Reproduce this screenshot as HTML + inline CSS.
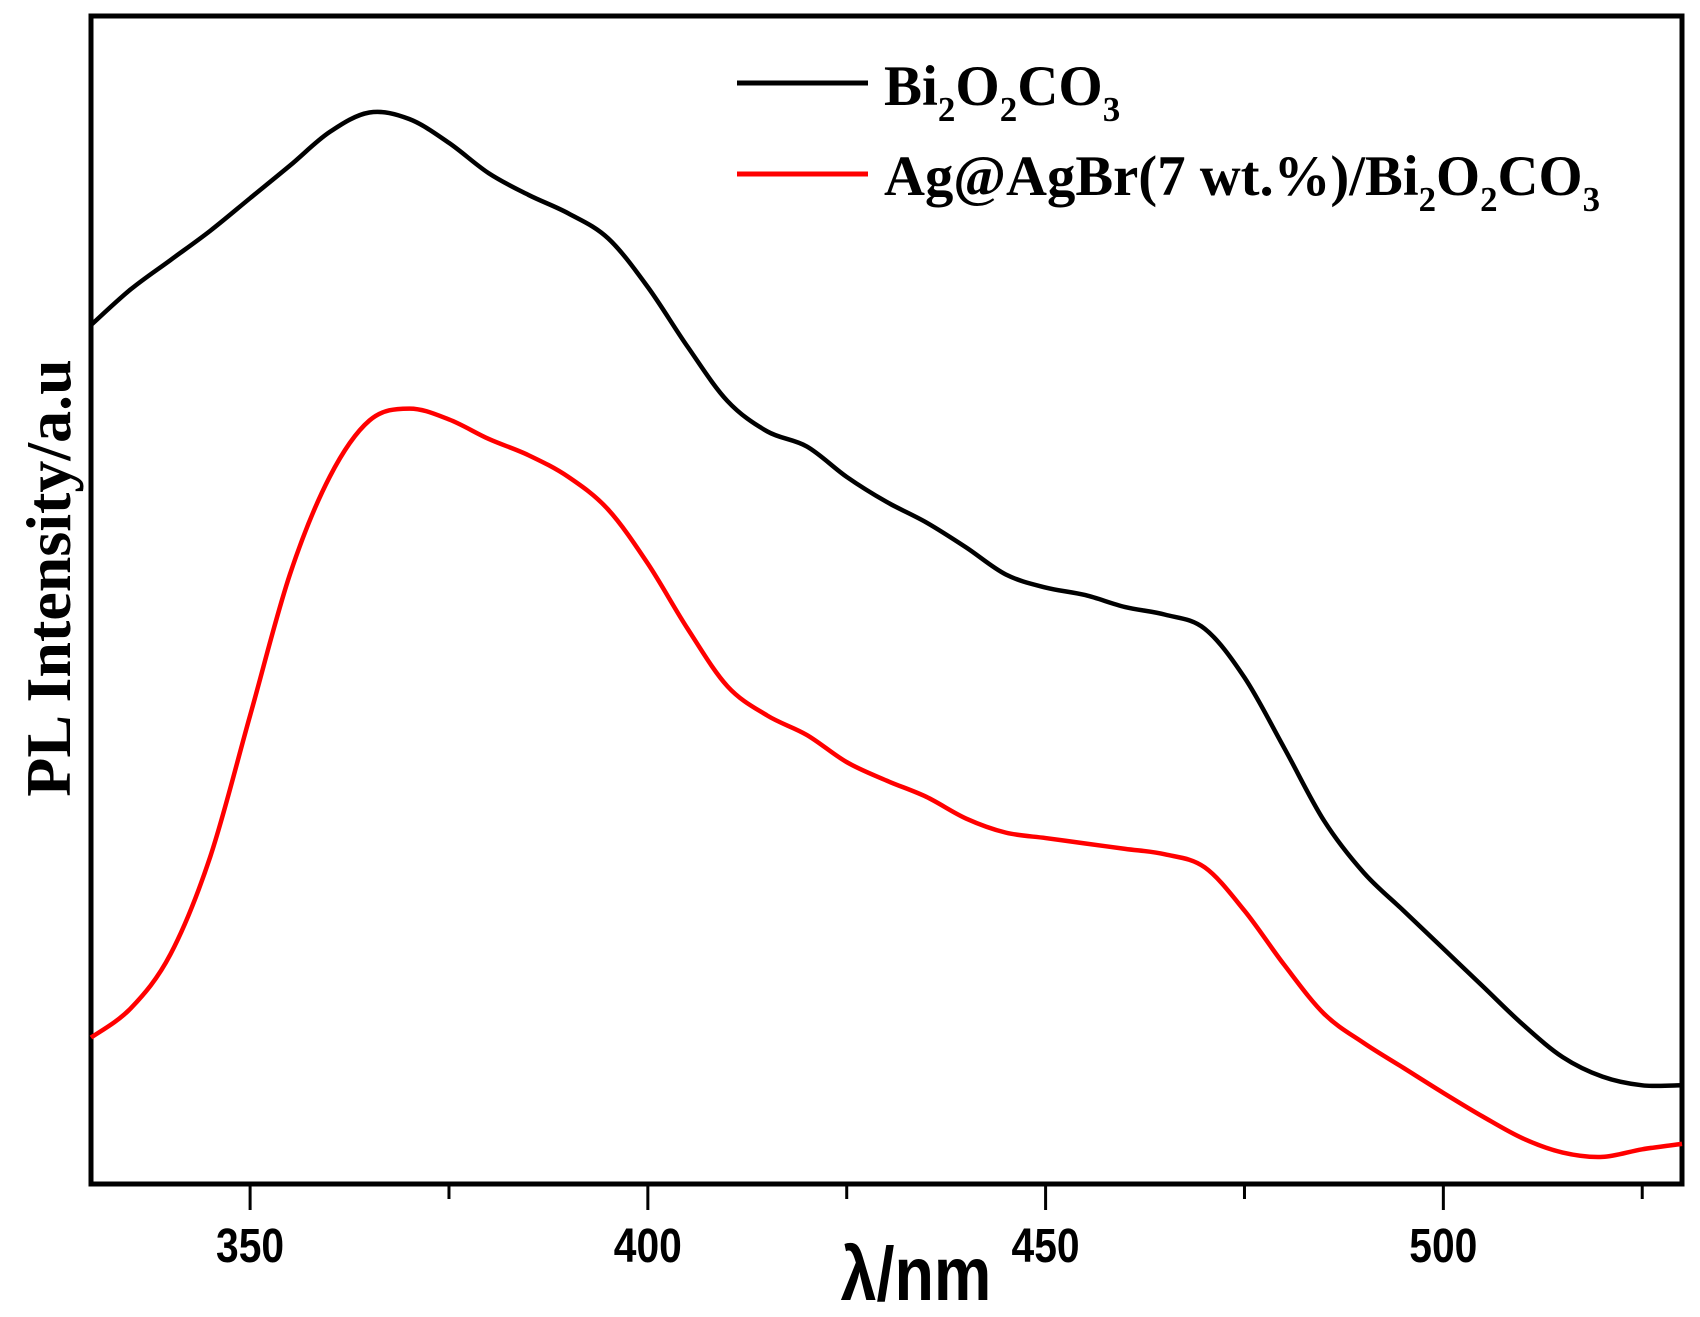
<!DOCTYPE html>
<html><head><meta charset="utf-8"><style>
html,body{margin:0;padding:0;background:#fff;}
svg{display:block;}
</style></head><body>
<svg id="chart" width="1700" height="1317" viewBox="0 0 1700 1317" xmlns="http://www.w3.org/2000/svg">
<rect x="91" y="16" width="1591" height="1168" fill="none" stroke="#000" stroke-width="5"/>
<g id="xticks"></g>
<g id="series"></g>
<text x="916" y="1300" text-anchor="middle" font-family="Liberation Sans, sans-serif" font-weight="bold" font-size="76" transform="translate(916 0) scale(0.85 1) translate(-916 0)">λ/nm</text>
<text transform="translate(70 578) rotate(-90)" text-anchor="middle" font-family="Liberation Serif, serif" font-weight="bold" font-size="64">PL Intensity/a.u</text>
<g font-family="Liberation Serif, serif" font-weight="bold">
<line x1="737" y1="83" x2="868" y2="83" stroke="#000" stroke-width="5"/>
<text x="884" y="105" font-size="57">Bi<tspan font-size="35" dy="16">2</tspan><tspan dy="-16">O</tspan><tspan font-size="35" dy="16">2</tspan><tspan dy="-16">CO</tspan><tspan font-size="35" dy="16">3</tspan></text>
<line x1="737" y1="174" x2="868" y2="174" stroke="#f00" stroke-width="5"/>
<text x="884" y="195" font-size="57" textLength="716" lengthAdjust="spacingAndGlyphs">Ag@AgBr(7 wt.%)/Bi<tspan font-size="35" dy="16">2</tspan><tspan dy="-16">O</tspan><tspan font-size="35" dy="16">2</tspan><tspan dy="-16">CO</tspan><tspan font-size="35" dy="16">3</tspan></text>
</g>
</svg>
<script>
const wavelengths = [330,335,340,345,350,355,360,365,370,375,380,385,390,395,400,405,410,415,420,425,430,435,440,445,450,455,460,465,470,475,480,485,490,495,500,505,510,515,520,525,530];
const bi2o2co3 = [792,825,852,879,909,939,970,988,982,960,932,912,895,872,827,772,722,694,680,652,629,610,587,562,550,543,532,525,512,467,402,335,287,252,217,182,147,117,99,91,91];
const agAgBr = [135,162,212,302,432,562,652,704,715,705,687,672,652,622,572,512,459,432,414,389,372,357,337,324,319,314,309,304,292,252,202,157,130,107,84,62,42,29,25,32,37];
const majorTicks = [350,400,450,500];
const minorTicks = [375,425,475,525];
const NS='http://www.w3.org/2000/svg';
const X0=91,X1=1682,Y0=1184,Y1=16;
const xMin=330,xMax=530,yMin=0,yMax=1077;
function sx(v){return X0+(v-xMin)/(xMax-xMin)*(X1-X0);}
function sy(v){return Y0-(v-yMin)/(yMax-yMin)*(Y0-Y1);}
const tg=document.getElementById('xticks');
majorTicks.forEach(t=>{
  const l=document.createElementNS(NS,'line');
  l.setAttribute('x1',sx(t));l.setAttribute('x2',sx(t));l.setAttribute('y1',1186);l.setAttribute('y2',1210);
  l.setAttribute('stroke','#000');l.setAttribute('stroke-width','3');
  
  
  tg.appendChild(l);
  const tx=document.createElementNS(NS,'text');
  tx.setAttribute('x',sx(t));tx.setAttribute('y',1262);tx.setAttribute('text-anchor','middle');
  tx.setAttribute('font-family','Liberation Sans, sans-serif');tx.setAttribute('font-weight','bold');tx.setAttribute('font-size','48');
  tx.setAttribute('transform','translate('+sx(t)+' 0) scale(0.85 1) translate('+(-sx(t))+' 0)');
  tx.textContent=t;
  
  
  tg.appendChild(tx);
});
minorTicks.forEach(t=>{
  const l=document.createElementNS(NS,'line');
  l.setAttribute('x1',sx(t));l.setAttribute('x2',sx(t));l.setAttribute('y1',1186);l.setAttribute('y2',1199);
  l.setAttribute('stroke','#000');l.setAttribute('stroke-width','3');
  
  
  tg.appendChild(l);
});
function pathFor(xs,ys){
  const p=xs.map((x,i)=>[sx(x),sy(ys[i])]);
  let d='M'+p[0][0]+' '+p[0][1];
  for(let i=0;i<p.length-1;i++){
    const a=p[Math.max(i-1,0)],b=p[i],c=p[i+1],e=p[Math.min(i+2,p.length-1)];
    const c1=[b[0]+(c[0]-a[0])/6,b[1]+(c[1]-a[1])/6];
    const c2=[c[0]-(e[0]-b[0])/6,c[1]-(e[1]-b[1])/6];
    d+=' C'+c1[0]+' '+c1[1]+' '+c2[0]+' '+c2[1]+' '+c[0]+' '+c[1];
  }
  return d;
}
const sg=document.getElementById('series');
const p1=document.createElementNS(NS,'path');
p1.setAttribute('d',pathFor(wavelengths,bi2o2co3));p1.setAttribute('fill','none');p1.setAttribute('stroke','#000');p1.setAttribute('stroke-width','4.5');


sg.appendChild(p1);
const p2=document.createElementNS(NS,'path');
p2.setAttribute('d',pathFor(wavelengths,agAgBr));p2.setAttribute('fill','none');p2.setAttribute('stroke','#f00');p2.setAttribute('stroke-width','4.5');


sg.appendChild(p2);
</script>
</body></html>
